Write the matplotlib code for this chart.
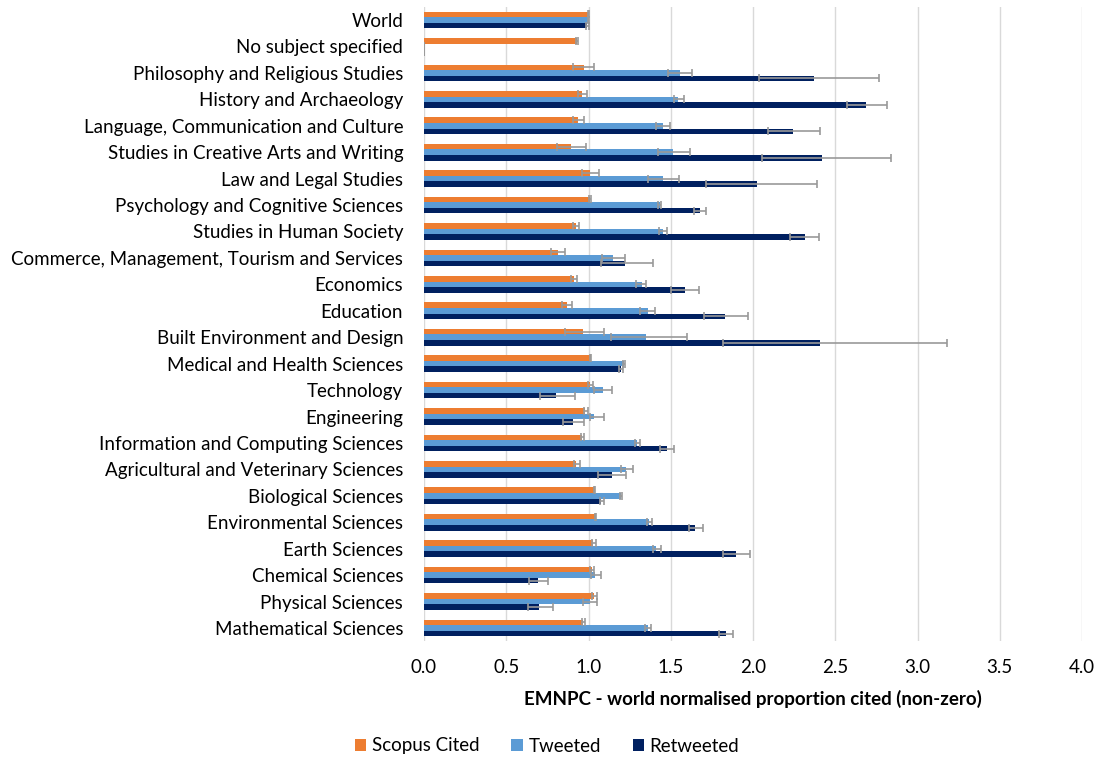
import matplotlib
matplotlib.use("Agg")
import matplotlib.pyplot as plt
import numpy as np

categories = [
    "World", "No subject specified", "Philosophy and Religious Studies",
    "History and Archaeology", "Language, Communication and Culture",
    "Studies in Creative Arts and Writing", "Law and Legal Studies",
    "Psychology and Cognitive Sciences", "Studies in Human Society",
    "Commerce, Management, Tourism and Services", "Economics", "Education",
    "Built Environment and Design", "Medical and Health Sciences", "Technology",
    "Engineering", "Information and Computing Sciences",
    "Agricultural and Veterinary Sciences", "Biological Sciences",
    "Environmental Sciences", "Earth Sciences", "Chemical Sciences",
    "Physical Sciences", "Mathematical Sciences",
]

scopus = [1.00, 0.93, 0.972, 0.962, 0.937, 0.895, 1.012, 1.008, 0.925, 0.814, 0.911, 0.870,
          0.968, 1.014, 1.008, 0.980, 0.962, 0.925, 1.036, 1.043, 1.028, 1.022, 1.034, 0.968]
scopus_lo = [0.995, 0.925, 0.905, 0.939, 0.907, 0.810, 0.962, 1.003, 0.905, 0.771, 0.895, 0.840,
             0.856, 1.010, 0.996, 0.972, 0.953, 0.911, 1.032, 1.039, 1.020, 1.012, 1.020, 0.960]
scopus_hi = [1.005, 0.935, 1.036, 0.988, 0.972, 0.986, 1.063, 1.013, 0.943, 0.856, 0.929, 0.901,
             1.095, 1.018, 1.028, 0.998, 0.974, 0.947, 1.042, 1.047, 1.045, 1.034, 1.050, 0.978]

tweeted = [1.00, 0.0, 1.555, 1.545, 1.453, 1.514, 1.451, 1.433, 1.453, 1.150, 1.326, 1.362,
           1.350, 1.217, 1.087, 1.032, 1.296, 1.231, 1.196, 1.370, 1.413, 1.038, 1.008, 1.360]
tweeted_lo = [0.995, 0.0, 1.482, 1.518, 1.409, 1.423, 1.360, 1.421, 1.431, 1.083, 1.291, 1.316,
              1.136, 1.211, 1.036, 1.008, 1.283, 1.198, 1.190, 1.356, 1.391, 1.014, 0.968, 1.346]
tweeted_hi = [1.005, 0.0, 1.632, 1.579, 1.498, 1.615, 1.551, 1.441, 1.478, 1.219, 1.350, 1.407,
              1.599, 1.223, 1.142, 1.093, 1.312, 1.271, 1.202, 1.383, 1.441, 1.077, 1.050, 1.377]

retweeted = [0.99, 0.0, 2.372, 2.686, 2.243, 2.417, 2.024, 1.676, 2.314, 1.219, 1.585, 1.830,
             2.405, 1.198, 0.804, 0.903, 1.478, 1.144, 1.079, 1.650, 1.895, 0.690, 0.702, 1.834]
retweeted_lo = [0.985, 0.0, 2.038, 2.569, 2.089, 2.055, 1.715, 1.640, 2.227, 1.073, 1.504, 1.702,
                1.820, 1.188, 0.706, 0.844, 1.433, 1.059, 1.067, 1.611, 1.816, 0.638, 0.634, 1.791]
retweeted_hi = [1.005, 0.0, 2.767, 2.814, 2.409, 2.840, 2.389, 1.717, 2.403, 1.391, 1.674, 1.968,
                3.180, 1.208, 0.917, 0.970, 1.522, 1.231, 1.095, 1.694, 1.984, 0.751, 0.787, 1.881]

series_names = ["Scopus Cited", "Tweeted", "Retweeted"]
colors = ["#ED7D31", "#5B9BD5", "#002060"]

plt.rcParams['font.family'] = ['Lato', 'DejaVu Sans']

fig = plt.figure(figsize=(11.01, 7.59), dpi=100)
ax = fig.add_axes([424/1101, 1-641.2/759, (1082-424)/1101, 634.4/759])

y = np.arange(len(categories))
h = 0.21
data = [(scopus, scopus_lo, scopus_hi), (tweeted, tweeted_lo, tweeted_hi),
        (retweeted, retweeted_lo, retweeted_hi)]
for k, ((v, lo, hi), name, c) in enumerate(zip(data, series_names, colors)):
    v = np.array(v); lo = np.array(lo); hi = np.array(hi)
    err = np.vstack([np.clip(v - lo, 0, None), np.clip(hi - v, 0, None)])
    ax.barh(y + (k - 1) * h, v, height=h, color=c, label=name, zorder=2,
            xerr=err, error_kw=dict(ecolor="#999999", elinewidth=1.2, capsize=3,
                                    capthick=1.2, zorder=3))

ax.set_ylim(len(categories) - 0.5, -0.5)
ax.set_xlim(0, 4.0)
ax.set_xticks(np.arange(0, 4.01, 0.5))
ax.set_xticklabels([f"{t:.1f}" for t in np.arange(0, 4.01, 0.5)])
ax.set_yticks(y)
ax.set_yticklabels(categories)
ax.tick_params(axis='y', length=0, pad=15, labelsize=13.5)
ax.tick_params(axis='x', length=0, pad=13, labelsize=13.5)
ax.grid(axis='x', color="#D9D9D9", linewidth=1, zorder=0)
for s in ax.spines.values():
    s.set_visible(False)
ax.set_xlabel("EMNPC - world normalised proportion cited (non-zero)",
              fontsize=13.5, fontweight='bold', labelpad=10)

handles, labels = ax.get_legend_handles_labels()
fig.legend(handles, labels, loc='center', bbox_to_anchor=(0.497, 1-746/759), ncol=3,
           frameon=False, fontsize=13.5, handlelength=0.6, handleheight=0.6,
           columnspacing=1.7, handletextpad=0.3)

fig.savefig("out.png", dpi=100)
